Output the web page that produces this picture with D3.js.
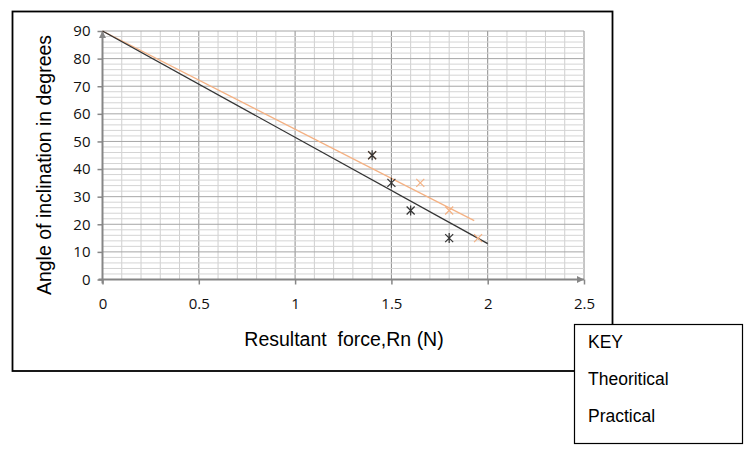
<!DOCTYPE html>
<html>
<head>
<meta charset="utf-8">
<script src="https://cdn.jsdelivr.net/npm/d3@7"></script>
<style>
  body { margin: 0; background: #fff; }
  svg { display: block; }
  .tick text { font-family: "Open Sans", Lato, sans-serif; font-size: 15px; fill: #111; }
</style>
</head>
<body>
<div id="plot"></div>
<script>
  // values
  var xTicks = [0, 0.5, 1, 1.5, 2, 2.5];
  var yTicks = [0, 10, 20, 30, 40, 50, 60, 70, 80, 90];
  var theoLineX = [0, 2];
  var theoLineY = [90, 13];
  var pracLineX = [0, 1.93];
  var pracLineY = [90, 21.3];
  var theoPointsX = [1.4, 1.5, 1.6, 1.8];
  var theoPointsY = [45, 35, 25, 15];
  var pracPointsX = [1.4, 1.65, 1.8, 1.95];
  var pracPointsY = [45, 35, 25, 15];
  var legendItems = ["KEY", "Theoritical", "Practical"];

  var width = 755, height = 462;

  var svg = d3.select("#plot").append("svg")
    .attr("width", width)
    .attr("height", height);

  svg.append("rect").attr("width", width).attr("height", height).attr("fill", "#fff");

  // outer chart frame
  svg.append("rect")
    .attr("x", 12.5).attr("y", 11.5)
    .attr("width", 600).attr("height", 359.5)
    .attr("fill", "none")
    .attr("stroke", "#000")
    .attr("stroke-width", 1.8);

  var x = d3.scaleLinear().domain([0, 2.5]).range([102.5, 584]);
  var y = d3.scaleLinear().domain([0, 90]).range([279.5, 31]);

  var grid = svg.append("g");

  // vertical grid every 0.1, darker every 0.5
  d3.range(1, 26).forEach(function(i) {
    var v = i / 10;
    grid.append("line")
      .attr("x1", x(v)).attr("x2", x(v))
      .attr("y1", y(0)).attr("y2", y(90))
      .attr("stroke", i % 5 === 0 ? "#8c8c8c" : "#cfcfcf")
      .attr("stroke-width", 1);
  });

  // horizontal grid every 2, darker every 10
  d3.range(1, 46).forEach(function(i) {
    var v = i * 2;
    grid.append("line")
      .attr("x1", x(0)).attr("x2", x(2.5))
      .attr("y1", y(v)).attr("y2", y(v))
      .attr("stroke", v % 10 === 0 ? "#a6a6a6" : "#d4d4d4")
      .attr("stroke-width", 1);
  });

  // arrow heads for the axes
  var defs = svg.append("defs");
  defs.append("marker")
    .attr("id", "arrow")
    .attr("viewBox", "0 0 10 10")
    .attr("refX", 10).attr("refY", 5)
    .attr("markerWidth", 9).attr("markerHeight", 7)
    .attr("markerUnits", "userSpaceOnUse")
    .attr("orient", "auto")
    .append("path")
    .attr("d", "M0,0 L10,5 L0,10 Z")
    .attr("fill", "#868686");

  var xAxis = d3.axisBottom(x).tickValues(xTicks).tickSizeInner(5).tickSizeOuter(0).tickPadding(14)
    .tickFormat(function(d) { return d; });
  var yAxis = d3.axisLeft(y).tickValues(yTicks).tickSizeInner(5).tickSizeOuter(0).tickPadding(7);

  var gx = svg.append("g")
    .attr("transform", "translate(0," + y(0) + ")")
    .call(xAxis);
  var gy = svg.append("g")
    .attr("transform", "translate(" + x(0) + ",0)")
    .call(yAxis);

  [gx, gy].forEach(function(g) {
    g.attr("font-size", 15).attr("font-family", "Open Sans");
    g.select(".domain").remove();
    g.selectAll(".tick line").attr("stroke", "#868686").attr("stroke-width", 1.5);
    g.selectAll(".tick text").attr("fill", "#111").attr("font-size", 15);
  });

  svg.append("line")
    .attr("x1", x(0) - 4).attr("x2", x(2.5))
    .attr("y1", y(0)).attr("y2", y(0))
    .attr("stroke", "#868686").attr("stroke-width", 2)
    .attr("marker-end", "url(#arrow)");
  svg.append("line")
    .attr("x1", x(0)).attr("x2", x(0))
    .attr("y1", y(0) + 4).attr("y2", y(90))
    .attr("stroke", "#868686").attr("stroke-width", 2)
    .attr("marker-end", "url(#arrow)");

  var line = d3.line()
    .x(function(d) { return x(d[0]); })
    .y(function(d) { return y(d[1]); });

  svg.append("path")
    .datum(d3.zip(pracLineX, pracLineY))
    .attr("d", line)
    .attr("fill", "none")
    .attr("stroke", "#f4b183")
    .attr("stroke-width", 1.3);

  svg.append("path")
    .datum(d3.zip(theoLineX, theoLineY))
    .attr("d", line)
    .attr("fill", "none")
    .attr("stroke", "#333")
    .attr("stroke-width", 1.3);

  var s = 4;
  function crossPath(d) {
    var cx = x(d[0]), cy = y(d[1]);
    return "M" + (cx - s) + "," + (cy - s) + "L" + (cx + s) + "," + (cy + s) +
           "M" + (cx - s) + "," + (cy + s) + "L" + (cx + s) + "," + (cy - s);
  }
  function starPath(d) {
    var cx = x(d[0]), cy = y(d[1]);
    return crossPath(d) + "M" + cx + "," + (cy - s - 1) + "L" + cx + "," + (cy + s + 1);
  }

  svg.selectAll(".prac")
    .data(d3.zip(pracPointsX, pracPointsY))
    .enter().append("path")
    .attr("class", "prac")
    .attr("d", crossPath)
    .attr("fill", "none")
    .attr("stroke", "#f4b183")
    .attr("stroke-width", 1.2);

  svg.selectAll(".theo")
    .data(d3.zip(theoPointsX, theoPointsY))
    .enter().append("path")
    .attr("class", "theo")
    .attr("d", starPath)
    .attr("fill", "none")
    .attr("stroke", "#333")
    .attr("stroke-width", 1.2);

  // axis titles
  svg.append("text")
    .attr("transform", "translate(51,165) rotate(-90)")
    .attr("text-anchor", "middle")
    .style("font-family", "'Liberation Sans', Arial, sans-serif")
    .style("font-size", "19.5px")
    .text("Angle of inclination in degrees");

  svg.append("text")
    .attr("x", 344).attr("y", 346)
    .attr("text-anchor", "middle")
    .style("font-family", "'Liberation Sans', Arial, sans-serif")
    .style("font-size", "19.5px")
    .style("white-space", "pre")
    .text("Resultant  force,Rn (N)");

  // key box
  svg.append("rect")
    .attr("x", 574.5).attr("y", 324.5)
    .attr("width", 168).attr("height", 119)
    .attr("fill", "#fff")
    .attr("stroke", "#000")
    .attr("stroke-width", 1.2);

  svg.selectAll(".key")
    .data(legendItems)
    .enter().append("text")
    .attr("class", "key")
    .attr("x", 588)
    .attr("y", function(d, i) { return 348 + i * 37; })
    .style("font-family", "'Liberation Sans', Arial, sans-serif")
    .style("font-size", "17.5px")
    .text(function(d) { return d; });
</script>
</body>
</html>
